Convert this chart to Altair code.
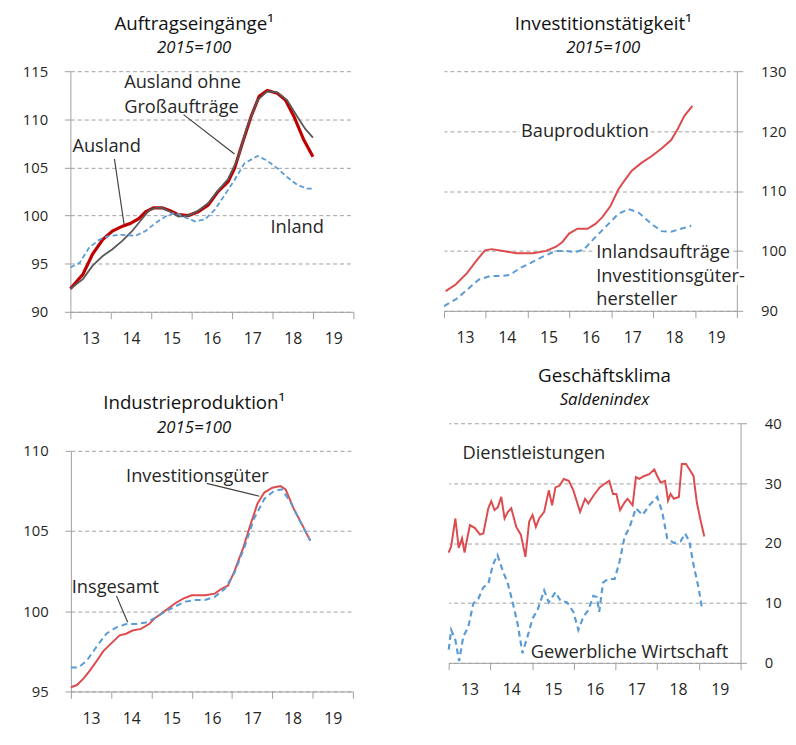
import altair as alt
import pandas as pd

FONT = "Open Sans"
TXT = "#262626"
AX = "#a0a0a0"
RED_DARK = "#c00000"
RED = "#dd4b4f"
BLUE = "#5b9bd5"
GREY = "#595959"
LEAD = "#404040"

# ---------------- Panel 1: Auftragseingänge ----------------
p1_ausland_x = [2013.00, 2013.31, 2013.55, 2013.80, 2014.04, 2014.29, 2014.49, 2014.70, 2014.86,
                2015.06, 2015.27, 2015.47, 2015.67, 2015.92, 2016.16, 2016.41, 2016.65, 2016.90,
                2017.06, 2017.26, 2017.47, 2017.67, 2017.87, 2018.12, 2018.32, 2018.53, 2018.77, 2019.00]
p1_ausland_y = [92.4, 93.9, 96.0, 97.5, 98.4, 98.9, 99.2, 99.7, 100.4,
                100.8, 100.8, 100.5, 100.1, 100.0, 100.4, 101.1, 102.5, 103.5,
                104.9, 107.6, 110.3, 112.4, 113.0, 112.7, 112.0, 110.3, 107.9, 106.1]
p1_ohne_x = [2013.00, 2013.31, 2013.55, 2013.80, 2014.04, 2014.29, 2014.53, 2014.78, 2014.94,
             2015.10, 2015.27, 2015.47, 2015.67, 2015.92, 2016.16, 2016.41, 2016.65, 2016.90,
             2017.14, 2017.38, 2017.63, 2017.87, 2018.12, 2018.36, 2018.61, 2018.81, 2019.00]
p1_ohne_y = [92.4, 93.4, 94.8, 95.8, 96.5, 97.4, 98.4, 99.7, 100.5,
             100.8, 100.8, 100.4, 99.9, 100.0, 100.5, 101.3, 102.6, 103.8,
             105.9, 109.3, 112.0, 112.9, 112.8, 112.0, 110.3, 109.0, 108.1]
p1_inland_x = [2013.00, 2013.23, 2013.47, 2013.72, 2013.96, 2014.29, 2014.61, 2014.86, 2015.10,
               2015.35, 2015.59, 2015.84, 2016.08, 2016.33, 2016.57, 2016.81, 2017.06, 2017.30,
               2017.63, 2017.87, 2018.12, 2018.36, 2018.61, 2018.85, 2019.00]
p1_inland_y = [94.6, 95.1, 96.7, 97.5, 97.9, 98.0, 97.9, 98.4, 99.2,
               99.9, 100.3, 99.8, 99.4, 99.6, 100.6, 102.1, 103.7, 105.4,
               106.2, 105.7, 104.9, 104.0, 103.2, 102.8, 102.8]
p1_text = ["Ausland ohne", "Großaufträge", "Ausland", "Inland"]
p1_text_x = [2014.33, 2014.33, 2013.05, 2017.95]
p1_text_y = [113.87, 111.3, 107.24, 98.8]
p1_lead_x = [2014.09, 2015.80]
p1_lead_y = [105.88, 110.49]
p1_lead_x2 = [2014.33, 2017.06]
p1_lead_y2 = [99.02, 106.39]

# ---------------- Panel 2: Investitionstätigkeit ----------------
p2_bau_x = [2013.04, 2013.28, 2013.55, 2013.79, 2013.98, 2014.14, 2014.42, 2014.73, 2015.13,
            2015.44, 2015.68, 2015.83, 2015.99, 2016.19, 2016.43, 2016.62, 2016.78, 2016.98,
            2017.17, 2017.33, 2017.49, 2017.72, 2017.96, 2018.20, 2018.43, 2018.59, 2018.75, 2018.94]
p2_bau_y = [93.3, 94.4, 96.3, 98.5, 100.1, 100.3, 100.0, 99.6, 99.6,
            100.0, 100.7, 101.5, 102.9, 103.7, 103.7, 104.5, 105.6, 107.5,
            110.3, 111.9, 113.4, 114.7, 115.8, 117.1, 118.5, 120.4, 122.6, 124.2]
p2_inl_x = [2013.00, 2013.28, 2013.55, 2013.83, 2014.10, 2014.34, 2014.57, 2014.81, 2015.13,
            2015.44, 2015.68, 2015.91, 2016.15, 2016.35, 2016.62, 2016.86, 2017.17, 2017.41,
            2017.65, 2017.96, 2018.20, 2018.43, 2018.67, 2018.91]
p2_inl_y = [90.8, 91.9, 93.5, 95.2, 95.8, 95.8, 96.0, 97.1, 98.2,
            99.3, 100.0, 100.0, 99.8, 100.3, 102.3, 104.0, 106.2, 107.0,
            106.4, 104.5, 103.3, 103.2, 103.7, 104.2]
p2_text = ["Bauproduktion", "Inlandsaufträge", "Investitionsgüter-", "hersteller"]
p2_text_x = [2014.84, 2016.64, 2016.64, 2016.64]
p2_text_y = [119.96, 99.88, 95.76, 91.93]

# ---------------- Panel 3: Industrieproduktion ----------------
p3_inv_x = [2013.00, 2013.15, 2013.31, 2013.47, 2013.64, 2013.80, 2014.00, 2014.21, 2014.37,
            2014.53, 2014.74, 2014.94, 2015.10, 2015.27, 2015.43, 2015.59, 2015.80, 2016.00,
            2016.16, 2016.33, 2016.57, 2016.74, 2016.90, 2017.06, 2017.27, 2017.47, 2017.63,
            2017.80, 2018.00, 2018.20, 2018.33, 2018.53, 2018.78, 2018.94]
p3_inv_y = [95.26, 95.4, 95.8, 96.3, 96.9, 97.5, 98.0, 98.5, 98.6,
            98.8, 98.9, 99.2, 99.6, 99.9, 100.2, 100.5, 100.8, 101.0,
            101.0, 101.0, 101.1, 101.4, 101.6, 102.5, 103.9, 105.5, 106.7,
            107.4, 107.7, 107.8, 107.6, 106.4, 105.2, 104.4]
p3_ges_x = [2013.00, 2013.19, 2013.39, 2013.64, 2013.88, 2014.13, 2014.37, 2014.62, 2014.86,
            2015.10, 2015.35, 2015.59, 2015.84, 2016.08, 2016.33, 2016.57, 2016.82, 2017.06,
            2017.31, 2017.55, 2017.80, 2018.04, 2018.24, 2018.45, 2018.69, 2018.94]
p3_ges_y = [96.5, 96.5, 96.9, 97.8, 98.6, 99.0, 99.2, 99.2, 99.3,
            99.6, 100.0, 100.3, 100.6, 100.7, 100.7, 100.9, 101.4, 102.4,
            104.0, 105.8, 107.0, 107.5, 107.6, 106.8, 105.6, 104.4]
p3_text = ["Investitionsgüter", "Insgesamt"]
p3_text_x = [2014.37, 2013.02]
p3_text_y = [108.44, 101.48]
p3_lead_x = [2016.37, 2014.13]
p3_lead_y = [107.97, 100.96]
p3_lead_x2 = [2017.68, 2014.41]
p3_lead_y2 = [107.17, 99.32]

# ---------------- Panel 4: Geschäftsklima ----------------
p4_dl_x = [2013.00, 2013.06, 2013.16, 2013.24, 2013.32, 2013.38, 2013.43, 2013.51, 2013.63,
           2013.75, 2013.83, 2013.95, 2014.02, 2014.10, 2014.18, 2014.26, 2014.34, 2014.42,
           2014.50, 2014.62, 2014.73, 2014.84, 2014.93, 2015.01, 2015.09, 2015.17, 2015.29,
           2015.40, 2015.48, 2015.56, 2015.66, 2015.76, 2015.88, 2015.99, 2016.15, 2016.27,
           2016.35, 2016.47, 2016.62, 2016.74, 2016.85, 2016.94, 2017.02, 2017.11, 2017.22,
           2017.29, 2017.41, 2017.49, 2017.57, 2017.69, 2017.81, 2017.93, 2018.00, 2018.08,
           2018.19, 2018.26, 2018.32, 2018.40, 2018.52, 2018.59, 2018.69, 2018.79, 2018.87,
           2018.95, 2019.03, 2019.13]
p4_dl_y = [18.4, 19.5, 24.1, 19.2, 20.8, 18.4, 20.3, 23.0, 22.5,
           21.4, 21.6, 25.8, 27.0, 25.5, 26.0, 27.7, 24.1, 25.2,
           25.8, 22.7, 21.4, 17.7, 23.6, 24.7, 22.7, 24.1, 25.2,
           28.8, 26.3, 29.3, 29.6, 30.7, 30.4, 28.8, 25.2, 27.4,
           26.6, 27.9, 29.3, 29.9, 30.4, 28.2, 28.2, 25.5, 26.8,
           27.4, 26.3, 31.0, 30.7, 31.2, 31.5, 32.3, 31.2, 30.1,
           30.4, 27.1, 28.2, 27.4, 27.7, 33.2, 33.2, 32.1, 31.2,
           26.8, 24.1, 21.1]
p4_gw_x = [2013.00, 2013.06, 2013.16, 2013.25, 2013.35, 2013.47, 2013.59, 2013.71, 2013.83,
           2013.95, 2014.06, 2014.17, 2014.30, 2014.42, 2014.54, 2014.65, 2014.77, 2014.89,
           2015.01, 2015.13, 2015.29, 2015.40, 2015.56, 2015.68, 2015.84, 2015.99, 2016.11,
           2016.23, 2016.35, 2016.47, 2016.55, 2016.61, 2016.70, 2016.82, 2016.98, 2017.10,
           2017.22, 2017.33, 2017.49, 2017.65, 2017.81, 2018.00, 2018.12, 2018.24, 2018.40,
           2018.56, 2018.67, 2018.77, 2018.87, 2018.99, 2019.07]
p4_gw_y = [2.2, 5.5, 3.8, 0.3, 4.4, 6.0, 9.9, 10.7, 12.6,
           13.2, 16.4, 18.0, 15.3, 13.2, 9.9, 6.6, 1.6, 4.4,
           7.4, 8.8, 12.1, 10.1, 11.8, 10.4, 10.1, 8.5, 5.5,
           7.7, 8.8, 11.2, 11.0, 8.5, 13.4, 14.0, 14.0, 17.0,
           21.1, 22.5, 25.8, 24.7, 26.3, 27.7, 25.2, 20.8, 20.0,
           20.3, 21.6, 20.3, 16.4, 12.6, 9.3]
p4_text = ["Dienstleistungen", "Gewerbliche Wirtschaft"]
p4_text_x = [2013.33, 2014.97]
p4_text_y = [35.06, 1.86]

YEAR_TICKS = [2013, 2014, 2015, 2016, 2017, 2018, 2019, 2020]


def make_panel(lines, texts, leaders, ydom, yvals, width, height, title, title_dx,
               yorient, halo=False):
    xscale = alt.Scale(domain=[2013, 2020], nice=False, zero=False)
    yscale = alt.Scale(domain=ydom, nice=False, zero=False)
    half = width / 7.0 / 2.0
    xaxis = alt.Axis(values=YEAR_TICKS,
                     labelExpr="datum.value >= 2020 ? '' : format(datum.value % 100, 'd')",
                     labelOffset=half, grid=False, tickSize=7, tickColor=AX, domainColor=AX,
                     labelFontSize=16, labelColor=TXT, labelFont=FONT, labelPadding=12,
                     title=None, labelFlush=False, labelOverlap=False)
    yaxis = alt.Axis(values=yvals, orient=yorient, grid=True, gridDash=[4, 3], gridColor=AX,
                     tickSize=6, tickColor=AX, domainColor=AX, labelFontSize=15,
                     labelColor=TXT, labelFont=FONT,
                     labelPadding=17 if yorient == "left" else 18, title=None)
    X = alt.X("year:Q", scale=xscale, axis=xaxis)
    Y = alt.Y("value:Q", scale=yscale, axis=yaxis)
    layers = []
    for xs, ys, color, w, dash in lines:
        df = pd.DataFrame({"year": xs, "value": ys})
        kw = dict(color=color, strokeWidth=w)
        if dash:
            kw["strokeDash"] = dash
        layers.append(alt.Chart(df).mark_line(**kw).encode(x=X, y=Y))
    if leaders:
        lx, ly, lx2, ly2 = leaders
        ldf = pd.DataFrame({"year": lx, "value": ly, "year2": lx2, "value2": ly2})
        layers.append(alt.Chart(ldf).mark_rule(color=LEAD, strokeWidth=1.2).encode(
            x=X, y=Y, x2="year2:Q", y2="value2:Q"))
    tl, tx, ty = texts
    tdf = pd.DataFrame({"year": tx, "value": ty, "label": tl})
    if halo:
        layers.append(alt.Chart(tdf).mark_text(
            align="left", baseline="middle", font=FONT, fontSize=18.5, color="white",
            stroke="white", strokeWidth=6).encode(x=X, y=Y, text="label:N"))
    layers.append(alt.Chart(tdf).mark_text(
        align="left", baseline="middle", font=FONT, fontSize=18.5, color=TXT).encode(
        x=X, y=Y, text="label:N"))
    text, subtitle = title
    return alt.layer(*layers).properties(
        width=width, height=height,
        title=alt.TitleParams(text=text, subtitle=subtitle, anchor="middle", dx=title_dx,
                              font=FONT, fontSize=19, fontWeight="normal", color="#111111",
                              subtitleFont=FONT, subtitleFontSize=17,
                              subtitleFontStyle="italic", subtitleColor="#111111",
                              subtitlePadding=7, offset=8))


p1 = make_panel(
    [(p1_ausland_x, p1_ausland_y, RED_DARK, 3.2, None),
     (p1_ohne_x, p1_ohne_y, GREY, 1.8, None),
     (p1_inland_x, p1_inland_y, BLUE, 1.8, [5, 3])],
    (p1_text, p1_text_x, p1_text_y),
    (p1_lead_x, p1_lead_y, p1_lead_x2, p1_lead_y2),
    [90, 115], [90, 95, 100, 105, 110, 115], 287, 244,
    ("Auftragseingänge¹", "2015=100"), -18, "left")

p2 = make_panel(
    [(p2_bau_x, p2_bau_y, RED, 2.0, None),
     (p2_inl_x, p2_inl_y, BLUE, 2.0, [6, 4])],
    (p2_text, p2_text_x, p2_text_y),
    None,
    [90, 130], [90, 100, 110, 120, 130], 297, 243,
    ("Investitionstätigkeit¹", "2015=100"), 13, "right", halo=True)

p3 = make_panel(
    [(p3_inv_x, p3_inv_y, RED, 2.0, None),
     (p3_ges_x, p3_ges_y, BLUE, 2.0, [6, 4])],
    (p3_text, p3_text_x, p3_text_y),
    (p3_lead_x, p3_lead_y, p3_lead_x2, p3_lead_y2),
    [95, 110], [95, 100, 105, 110], 286, 244,
    ("Industrieproduktion¹", "2015=100"), -18, "left")

p4 = make_panel(
    [(p4_dl_x, p4_dl_y, RED, 2.0, None),
     (p4_gw_x, p4_gw_y, BLUE, 2.2, [6, 4])],
    (p4_text, p4_text_x, p4_text_y),
    None,
    [0, 40], [0, 10, 20, 30, 40], 296, 243,
    ("Geschäftsklima", "Saldenindex"), 10, "right")

left_col = alt.vconcat(p1, p3, spacing=49, center=True)
right_col = alt.vconcat(p2, p4, spacing=22, center=True)
chart = alt.hconcat(left_col, right_col, spacing=67).configure_view(stroke=None).properties(
    padding={"left": 14, "top": 2, "right": 2, "bottom": 0})

chart.save("out.html", embed_options={"renderer": "svg", "actions": False})
